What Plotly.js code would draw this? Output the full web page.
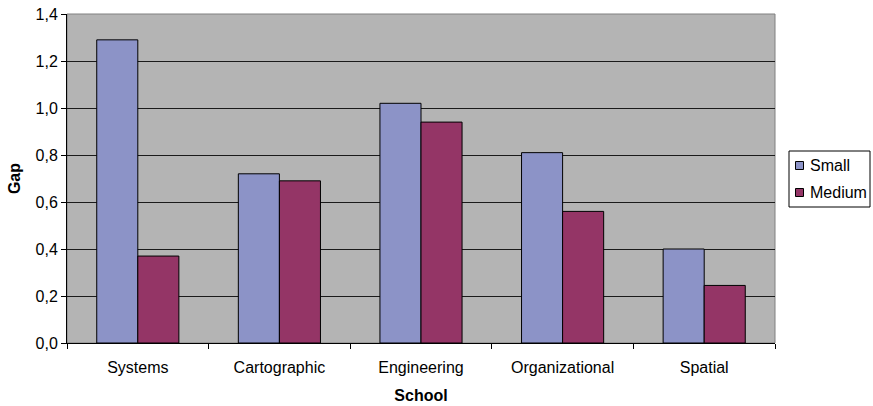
<!DOCTYPE html>
<html>
<head>
<meta charset="utf-8">
<script src="https://cdn.plot.ly/plotly-3.0.1.min.js"></script>
<style>html,body{margin:0;padding:0;background:#fff;}#chart{width:873px;height:406px;}</style>
</head>
<body>
<div id="chart"></div>
<script>
const categories = ["Systems", "Cartographic", "Engineering", "Organizational", "Spatial"];
const smallValues = [1.29, 0.72, 1.02, 0.81, 0.40];
const mediumValues = [0.37, 0.69, 0.94, 0.56, 0.245];
const seriesNames = ["Small", "Medium"];
const seriesColors = ["#8C93C7", "#943566"];
const yTicks = [0, 0.2, 0.4, 0.6, 0.8, 1.0, 1.2, 1.4];

const font = "Liberation Sans, Arial, sans-serif";
const W = 873, H = 406;
const M = {l: 67, r: 98, t: 14, b: 63};
const traces = [
  {type: "bar", name: seriesNames[0], x: categories, y: smallValues,
   marker: {color: seriesColors[0], line: {color: "#000", width: 1}}},
  {type: "bar", name: seriesNames[1], x: categories, y: mediumValues,
   marker: {color: seriesColors[1], line: {color: "#000", width: 1}}}
];

// Legend box drawn in pixel-derived paper coordinates (outside plot area)
const pw = W - M.l - M.r, ph = H - M.t - M.b;
const px = v => (v - M.l) / pw;
const py = v => (H - M.b - v) / ph;
const shapes = [
  {type: "rect", xref: "paper", yref: "paper", x0: 0, x1: 1, y0: 0, y1: 1,
   line: {color: "#808080", width: 1}, layer: "below"},
  {type: "rect", xref: "paper", yref: "paper", x0: px(789), x1: px(870), y0: py(207), y1: py(151),
   line: {color: "#000", width: 1}, fillcolor: "#fff"}
];
const annotations = [];
const rowCenters = [165.5, 192.5];
seriesNames.forEach((name, i) => {
  const c = rowCenters[i];
  shapes.push({type: "rect", xref: "paper", yref: "paper",
    x0: px(795.5), x1: px(803.5), y0: py(c + 4), y1: py(c - 4),
    line: {color: "#000", width: 1}, fillcolor: seriesColors[i]});
  annotations.push({xref: "paper", yref: "paper", x: px(808), y: py(c),
    xanchor: "left", yanchor: "middle", showarrow: false, text: name,
    font: {family: font, size: 16, color: "#000"}});
});

const layout = {
  width: W, height: H,
  margin: M,
  paper_bgcolor: "#fff", plot_bgcolor: "#B4B4B4",
  separators: ",.",
  font: {family: font, size: 16, color: "#000"},
  barmode: "group", bargap: 0.42, bargroupgap: 0,
  showlegend: false,
  xaxis: {
    title: {text: "<b>School</b>", font: {family: font, size: 16}, standoff: 14},
    showline: true, linecolor: "#000", linewidth: 1,
    ticks: "outside", tickson: "boundaries", ticklen: 5, tickcolor: "#000",
    ticklabelstandoff: 10,
    showgrid: false, tickfont: {family: font, size: 16}
  },
  yaxis: {
    title: {text: "<b>Gap</b>", font: {family: font, size: 16}, standoff: 10},
    range: [0, 1.4], tickvals: yTicks, tickformat: ".1f",
    showline: true, linecolor: "#000", linewidth: 1,
    ticks: "outside", ticklen: 5, tickcolor: "#000",
    showgrid: true, gridcolor: "#1a1a1a", gridwidth: 1,
    zeroline: false, tickfont: {family: font, size: 16}
  },
  shapes: shapes,
  annotations: annotations
};
Plotly.newPlot("chart", traces, layout, {displayModeBar: false, staticPlot: true});
</script>
</body>
</html>
